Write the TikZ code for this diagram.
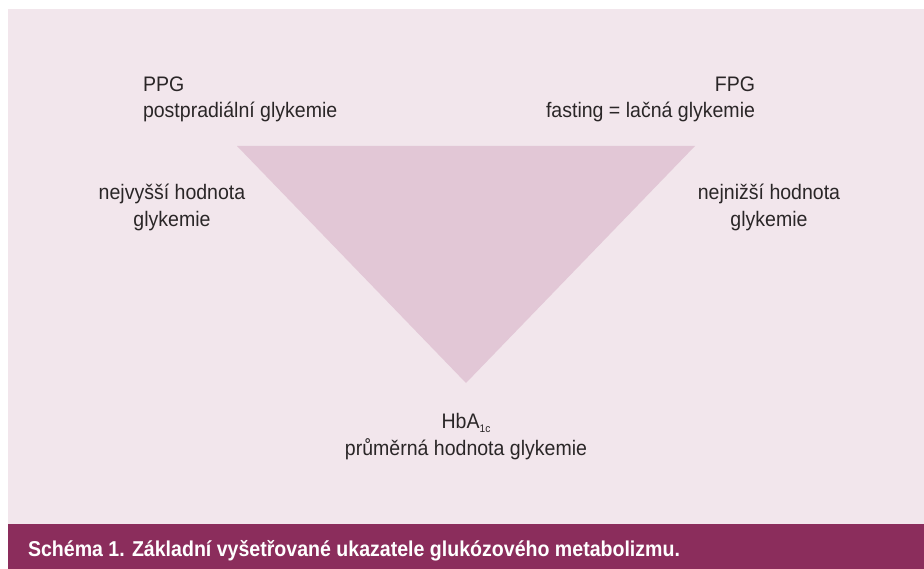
\documentclass[tikz,border=0pt]{standalone}
\usepackage{fontspec}
\setmainfont{Liberation Sans}
\newfontfamily\lblfont[FakeStretch=0.93]{Liberation Sans}
\newfontfamily\capfont[FakeStretch=0.91]{Liberation Sans Bold}
\definecolor{bgpink}{HTML}{F2E6EC}
\definecolor{tripink}{HTML}{E2C7D6}
\definecolor{barred}{HTML}{8B2D5C}
\definecolor{txt}{HTML}{2A2627}
\begin{document}
\begin{tikzpicture}[x=1pt,y=-1pt,
  lbl/.style={inner sep=0pt,outer sep=0pt,text=txt,font=\lblfont\fontsize{21}{26}\selectfont},
  captionstyle/.style={inner sep=0pt,outer sep=0pt,text=white,font=\capfont\fontsize{21.5}{24}\selectfont}]
\useasboundingbox (0,0) rectangle (924,569);
\fill[white] (0,0) rectangle (924,569);
\fill[bgpink] (8,9) rectangle (924,524);
\fill[barred] (8,524) rectangle (924,569);
\coordinate (tl) at (237,146);
\coordinate (tr) at (695,146);
\coordinate (bt) at (466,383);
\fill[tripink] (tl) -- (tr) -- (bt) -- cycle;
\node[lbl,anchor=base west] (ppg) at (143,92) {PPG};
\node[lbl,anchor=base west] (ppgt) at (143,118) {postpradiální glykemie};
\node[lbl,anchor=base east] (fpg) at (755,92) {FPG};
\node[lbl,anchor=base east] (fpgt) at (755,118) {fasting = lačná glykemie};
\node[lbl,anchor=base] (hi1) at (172,200) {nejvyšší hodnota};
\node[lbl,anchor=base] (hi2) at (172,227) {glykemie};
\node[lbl,anchor=base] (lo1) at (769,200) {nejnižší hodnota};
\node[lbl,anchor=base] (lo2) at (769,227) {glykemie};
\node[lbl,anchor=base] (hba) at (466,428) {HbA\raisebox{-5pt}{\fontsize{11}{12}\selectfont 1c}};
\node[lbl,anchor=base] (hbat) at (466,455) {průměrná hodnota glykemie};
\node[captionstyle,anchor=base west] (caption) at (28,556) {Schéma 1. Základní vyšetřované ukazatele glukózového metabolizmu.};
\end{tikzpicture}
\end{document}
